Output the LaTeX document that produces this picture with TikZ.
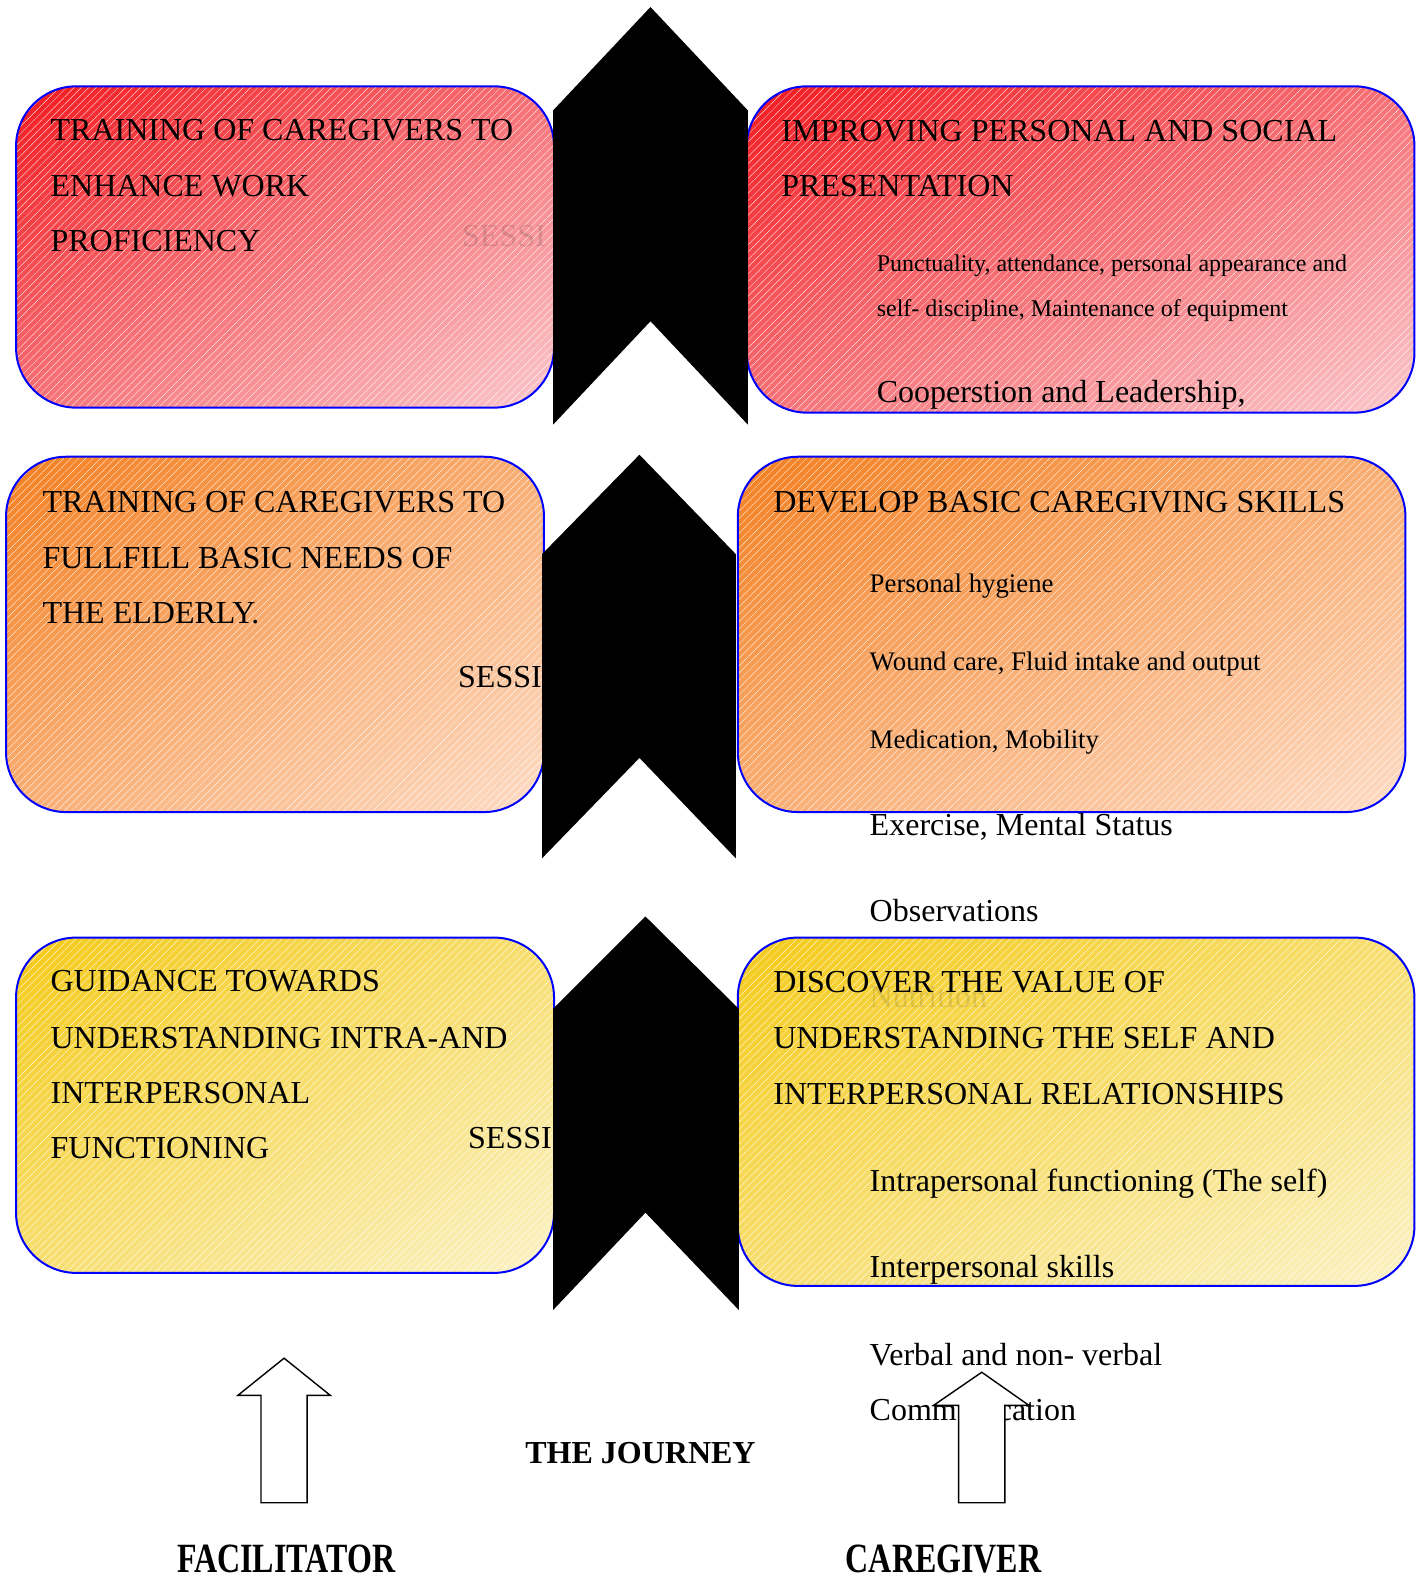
\documentclass[tikz,border=0pt]{standalone}
\usepackage{fontspec}
\setmainfont{Liberation Serif}
\usetikzlibrary{patterns.meta,shadings}

\definecolor{redA}{HTML}{F21A20}
\definecolor{redC}{HTML}{FAC8CC}
\definecolor{orA}{HTML}{F47F20}
\definecolor{orC}{HTML}{FDDCC6}
\definecolor{yeA}{HTML}{F4CA18}
\definecolor{yeC}{HTML}{FBF2C6}
\definecolor{panelblue}{HTML}{0000FF}

\tikzset{
  panel/.style={line width=1pt, rounded corners=30pt,
    anchor=north west, inner sep=0pt,
    postaction={pattern={Lines[angle=45, distance=2.6pt, line width=0.15pt]},
      pattern color=white, fill opacity=0.3},
    postaction={draw=panelblue, line width=1pt}},
  redpanel/.style={panel, upper left=redA, lower right=redC,
    upper right=redA!50!redC, lower left=redA!50!redC},
  orangepanel/.style={panel, upper left=orA, lower right=orC,
    upper right=orA!50!orC, lower left=orA!50!orC},
  yellowpanel/.style={panel, upper left=yeA, lower right=yeC,
    upper right=yeA!50!yeC, lower left=yeA!50!yeC},
  head/.style={anchor=base west, inner sep=0pt, font=\fontsize{16}{19}\selectfont},
  smallitem/.style={anchor=base west, inner sep=0pt, font=\fontsize{12}{14}\selectfont},
  miditem/.style={anchor=base west, inner sep=0pt, font=\fontsize{13.4}{16}\selectfont},
  bigitem/.style={anchor=base west, inner sep=0pt, font=\fontsize{16}{19}\selectfont},
  faint/.style={anchor=base west, inner sep=0pt, font=\fontsize{16}{19}\selectfont, text opacity=0.12},
  botlabel/.style={anchor=base, inner sep=0pt, font=\fontsize{16}{19}\selectfont\bfseries},
  chevron/.style={fill=black},
  blockarrow/.style={draw=black, fill=white, line width=0.7pt, line join=miter},
}

\begin{document}
\begin{tikzpicture}[x=0.50176pt, y=-0.50176pt]
  \useasboundingbox (0,0) rectangle (1418,1568);

  % ---- panels ----
  \node[redpanel, minimum width=268.9pt, minimum height=160.6pt] (p1l) at (15,85) {};
  \node[redpanel, minimum width=333.7pt, minimum height=163.1pt] (p1r) at (743,85) {};
  \node[orangepanel, minimum width=268.9pt, minimum height=177.6pt] (p2l) at (5,454) {};
  \node[orangepanel, minimum width=333.7pt, minimum height=177.6pt] (p2r) at (734,454) {};
  \node[yellowpanel, minimum width=268.9pt, minimum height=167.6pt] (p3l) at (15,933) {};
  \node[yellowpanel, minimum width=338.2pt, minimum height=174.1pt] (p3r) at (734,933) {};

  % ---- left column ----
  \node[head] (l1a) at (50,140) {TRAINING OF CAREGIVERS TO};
  \node[head] (l1b) at (50,196) {ENHANCE WORK};
  \node[head] (l1c) at (50,251) {PROFICIENCY};
  \node[faint] (s1) at (460,246) {SESSI};

  \node[head] (l2a) at (42,511) {TRAINING OF CAREGIVERS TO};
  \node[head] (l2b) at (42,566) {FULLFILL BASIC NEEDS OF};
  \node[head] (l2c) at (42,621) {THE ELDERLY.};
  \node[head] (s2) at (456,685) {SESSI};

  \node[head] (l3a) at (50,988) {GUIDANCE TOWARDS};
  \node[head] (l3b) at (50,1044) {UNDERSTANDING INTRA-AND};
  \node[head] (l3c) at (50,1099) {INTERPERSONAL};
  \node[head] (l3d) at (50,1154) {FUNCTIONING};
  \node[head] (s3) at (466,1144) {SESSI};

  % ---- right column ----
  \node[head] (r1a) at (778,141) {IMPROVING PERSONAL AND SOCIAL};
  \node[head] (r1b) at (778,196) {PRESENTATION};
  \node[smallitem] (r1c) at (873,270) {Punctuality, attendance, personal appearance and};
  \node[smallitem] (r1d) at (873,315) {self- discipline, Maintenance of equipment};
  \node[bigitem] (r1e) at (873,401) {Cooperstion and Leadership,};

  \node[head] (r2a) at (770,511) {DEVELOP BASIC CAREGIVING SKILLS};
  \node[miditem] (r2b) at (866,590) {Personal hygiene};
  \node[miditem] (r2c) at (866,668) {Wound care, Fluid intake and output};
  \node[miditem] (r2d) at (866,746) {Medication, Mobility};
  \node[bigitem] (r2e) at (866,832) {Exercise, Mental Status};
  \node[bigitem] (r2f) at (866,918) {Observations};
  \node[faint, text opacity=0.1] (r2g) at (866,1004) {Nutrition};

  \node[head] (r3a) at (770,989) {DISCOVER THE VALUE OF};
  \node[head] (r3b) at (770,1044) {UNDERSTANDING THE SELF AND};
  \node[head] (r3c) at (770,1100) {INTERPERSONAL RELATIONSHIPS};
  \node[bigitem] (r3d) at (866,1187) {Intrapersonal functioning (The self)};
  \node[bigitem] (r3e) at (866,1273) {Interpersonal skills};
  \node[bigitem] (r3f) at (866,1360) {Verbal and non- verbal};
  \node[bigitem] (r3g) at (866,1415) {Communication};

  % ---- chevrons ----
  \fill[chevron] (551,110) -- (648,7) -- (745,110) -- (745,423) -- (648,320) -- (551,423) -- cycle;
  \fill[chevron] (540,552) -- (637,453) -- (733,552) -- (733,855) -- (637,755) -- (540,855) -- cycle;
  \fill[chevron] (551,1005) -- (643,913) -- (736,1005) -- (736,1305) -- (643,1208) -- (551,1305) -- cycle;

  % ---- up arrows ----
  \draw[blockarrow] (283,1353) -- (329,1390) -- (306,1390) -- (306,1497) -- (260,1497) -- (260,1390) -- (237,1390) -- cycle;
  \draw[blockarrow] (978,1367) -- (1025,1400) -- (1001,1400) -- (1001,1497) -- (955,1497) -- (955,1400) -- (930,1400) -- cycle;

  % ---- labels ----
  \node[botlabel] (journey) at (638,1458) {THE JOURNEY};
  \node[botlabel] (fac) at (285,1566) {\scalebox{1}[1.3]{FACILITATOR}};
  \node[botlabel] (cg) at (940,1566) {\scalebox{1}[1.3]{CAREGIVER}};
\end{tikzpicture}
\end{document}
